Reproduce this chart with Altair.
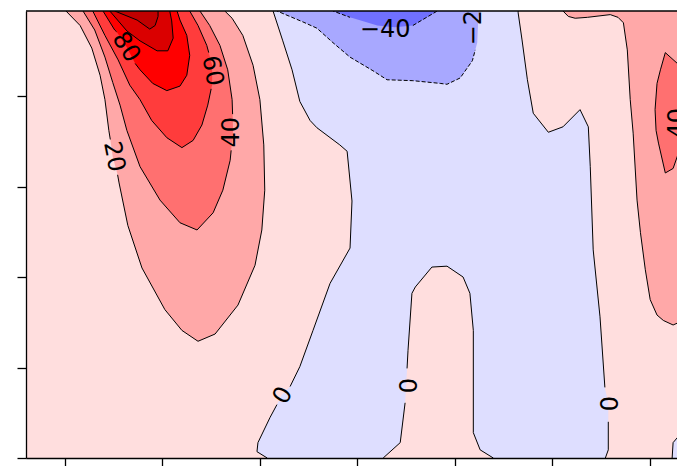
import altair as alt
import pandas as pd

# ---- contour regions (x: latitude-like, y: height-like) ----
# each region: vertex x list, vertex y list; *_gaps = vertex index pairs where the contour line is broken by a label
c20_left_x = [-61.0, -59.8, -56.9, -54.5, -52.8, -51.8, -51.0, -50.7, -50.2, -49.2, -48.9, -47.1, -44.2, -39.5, -36.0, -32.7, -29.2, -24.5, -21.0, -19.6, -19.0, -19.2, -20.0, -21.4, -23.5, -25.7, -27.2, -27.8]
c20_left_y = [51.0, 49.4, 47.8, 45.3, 42.3, 39.6, 36.2, 35.2, 33.3, 31.3, 30.4, 25.7, 21.0, 16.4, 14.1, 12.9, 13.7, 16.9, 21.3, 25.2, 29.6, 34.6, 39.6, 43.4, 46.7, 48.6, 49.4, 51.0]
c20_left_gaps = [(7, 9)]

c40_left_x = [-56.9, -56.3, -53.9, -51.8, -50.2, -48.7, -47.3, -44.6, -40.5, -36.4, -32.9, -29.6, -27.6, -26.1, -25.9, -25.5, -25.6, -25.7, -26.6, -28.2, -30.3, -32.3, -32.7]
c40_left_y = [51.0, 49.4, 47.3, 44.3, 41.5, 39.0, 36.2, 32.2, 28.5, 26.0, 25.2, 27.1, 29.6, 32.9, 34.0, 36.2, 38.0, 39.6, 42.9, 45.6, 47.8, 49.4, 51.0]
c40_left_gaps = [(14, 16)]

c60_x = [-54.3, -54.3, -51.8, -49.1, -46.7, -44.6, -42.2, -39.1, -36.0, -33.7, -31.9, -30.7, -30.0, -29.8, -29.8, -30.5, -30.9, -32.7, -34.4, -34.6]
c60_y = [51.0, 49.4, 46.7, 44.0, 41.2, 39.6, 37.3, 35.4, 34.3, 35.1, 36.8, 39.0, 40.8, 41.2, 43.4, 44.8, 45.6, 47.8, 49.4, 51.0]
c60_gaps = [(12, 15)]

c80_x = [-52.2, -52.2, -49.8, -49.4, -47.3, -45.6, -44.6, -42.0, -39.1, -36.4, -35.0, -34.4, -35.0, -36.4, -37.0, -37.0]
c80_y = [51.0, 49.4, 47.3, 47.1, 45.4, 43.6, 42.9, 41.4, 40.6, 41.1, 42.3, 44.5, 46.7, 48.4, 49.4, 51.0]
c80_gaps = [(3, 5)]

c100_x = [-50.8, -50.8, -47.3, -44.6, -41.1, -38.9, -37.8, -38.1, -38.5, -38.5]
c100_y = [51.0, 49.4, 47.2, 46.1, 45.0, 45.0, 46.4, 48.3, 49.4, 51.0]

c120_x = [-49.8, -49.8, -45.2, -42.6, -41.5, -40.9, -40.9, -40.9]
c120_y = [51.0, 49.4, 48.4, 47.4, 47.8, 48.8, 49.4, 51.0]

cneg0_x = [-17.3, -17.3, -15.3, -13.4, -11.8, -9.7, -8.3, -3.6, -2.1, -1.1, -1.5, -5.6, -9.1, -11.8, -13.8, -15.5, -16.5, -17.9, -20.4, -20.6, -18.5, -18.5,
           5.3, 5.3, 8.8, 9.8, 10.2, 10.4, 11.2, 11.9, 15.3, 18.4, 21.7, 23.1, 23.8, 23.8, 25.2, 27.9, 27.9,
           50.9, 50.9, 51.5, 51.5, 51.5, 50.9, 50.8, 49.8, 48.4, 47.8, 47.4, 45.7, 42.2, 39.2, 36.1, 34.9, 33.8, 33.0, 33.0]
cneg0_y = [51.0, 49.4, 46.1, 42.9, 39.4, 37.3, 36.5, 34.6, 33.9, 28.4, 23.2, 19.3, 14.1, 10.1, 7.9, 7.0, 5.9, 4.5, 1.7, 0.7, 0.0, -1.0,
           -1.0, 0.0, 1.7, 6.1, 9.9, 11.9, 18.2, 18.9, 21.1, 21.2, 20.0, 18.2, 14.1, 2.8, 0.9, 0.0, -1.0,
           -1.0, 0.0, 0.9, 4.0, 6.1, 7.5, 7.8, 15.6, 23.0, 32.2, 36.6, 38.5, 36.6, 36.0, 38.1, 41.8, 46.2, 49.2, 51.0]
cneg0_gaps = [(14, 16), (25, 26), (42, 45)]

cneg0b_x = [64.6, 64.6, 64.8, 65.9, 67.3, 69.3, 69.3]
cneg0b_y = [-1.0, 0.0, 1.7, 2.4, 2.9, 3.1, -1.0]

cneg20_x = [-16.5, -16.5, -11.2, -8.3, -5.0, -1.5, 3.2, 6.1, 11.4, 17.0, 18.4, 21.1, 23.6, 24.2, 24.6, 24.8, 25.0, 25.0]
cneg20_y = [51.0, 49.4, 48.2, 47.5, 45.9, 44.3, 42.8, 41.8, 41.7, 41.4, 41.3, 42.0, 43.9, 45.1, 45.9, 48.4, 49.4, 51.0]
cneg20_gaps = [(13, 17)]

cneg40_x = [-5.0, -5.0, -1.5, 4.1, 7.7, 11.4, 13.9, 16.4, 16.4]
cneg40_y = [51.0, 49.4, 48.7, 47.8, 47.6, 47.8, 48.6, 49.4, 51.0]
cneg40_gaps = [(2, 5)]

c20_right_x = [42.2, 42.2, 43.3, 44.7, 47.2, 51.9, 53.5, 54.6, 55.4, 56.0, 56.6, 57.4, 58.1, 59.1, 60.1, 61.5, 62.8, 64.8, 66.9, 69.3, 69.3]
c20_right_y = [51.0, 49.4, 48.8, 48.6, 48.7, 49.0, 48.7, 48.1, 45.1, 39.6, 35.9, 28.5, 24.9, 20.8, 17.5, 15.8, 15.2, 14.7, 15.2, 16.4, 51.0]

c40_right_x = [63.2, 62.2, 61.5, 61.1, 61.3, 61.8, 63.2, 64.8, 66.1, 66.5, 66.7, 66.7, 67.5, 66.3]
c40_right_y = [44.8, 42.9, 41.4, 38.5, 36.2, 34.8, 31.5, 32.0, 34.0, 35.0, 37.0, 39.0, 40.9, 43.3]
c40_right_gaps = [(9, 11)]

# contour labels
label_text = ["80", "60", "40", "20", "0", "0", "0", "\u221240", "\u221220", "40", "20"]
label_x = [-47.5, -29.8, -25.7, -50.0, -15.2, 10.0, 51.3, 5.7, 24.0, 65.8, 68.6]
label_y = [45.4, 42.8, 36.0, 33.3, 6.9, 8.0, 6.0, 47.3, 48.4, 37.0, 29.5]
label_angle = [58, 80, 270, 79, 300, 90, 90, 0, 270, 270, 270]

x_ticks = [-60, -40, -20, 0, 20, 40, 60]
y_ticks = [0, 10, 20, 30, 40]

W, H = 651, 447
xscale = alt.Scale(domain=[-68.0, 65.6], nice=False, zero=False)
yscale = alt.Scale(domain=[0, 49.4], nice=False, zero=False)
ax_common = dict(labels=False, title=None, grid=False, domainColor="black", domainWidth=1.3,
                 tickColor="black", tickWidth=1.3, tickSize=9, zindex=1)
xaxis = alt.Axis(values=x_ticks, **ax_common)
yaxis = alt.Axis(values=y_ticks, **ax_common)
X = lambda: alt.X("x:Q", scale=xscale, axis=xaxis)
Y = lambda: alt.Y("y:Q", scale=yscale, axis=yaxis)


def region(xs, ys, fill, gaps=(), dash=None):
    n = len(xs)
    fdf = pd.DataFrame({"x": list(xs) + [xs[0]], "y": list(ys) + [ys[0]], "i": range(n + 1)})
    fill_layer = alt.Chart(fdf).mark_line(fill=fill, strokeOpacity=0, clip=True).encode(
        x=X(), y=Y(), order="i:Q")
    ring = list(range(n)) + [0]
    removed = set()
    for s, e in gaps:
        removed.update(range(s, e))
    segs, cur = [], [ring[0]]
    for k in range(n):
        if k in removed:
            if len(cur) > 1:
                segs.append(cur)
            cur = [ring[k + 1]]
        else:
            cur.append(ring[k + 1])
    if len(cur) > 1:
        segs.append(cur)
    rows = []
    for s_id, seg in enumerate(segs):
        for j, idx in enumerate(seg):
            rows.append({"x": xs[idx], "y": ys[idx], "seg": s_id, "i": j})
    kw = dict(color="black", strokeWidth=1.0, clip=True, strokeJoin="round")
    if dash:
        kw["strokeDash"] = dash
    stroke_layer = alt.Chart(pd.DataFrame(rows)).mark_line(**kw).encode(
        x=X(), y=Y(), detail="seg:N", order="i:Q")
    return [fill_layer, stroke_layer]


layers = []
layers += region(c20_left_x, c20_left_y, "#FFA8A8", c20_left_gaps)
layers += region(c40_left_x, c40_left_y, "#FF7070", c40_left_gaps)
layers += region(c60_x, c60_y, "#FF3C3C", c60_gaps)
layers += region(c80_x, c80_y, "#FF0000", c80_gaps)
layers += region(c100_x, c100_y, "#DA0000")
layers += region(c120_x, c120_y, "#C00000")
layers += region(c20_right_x, c20_right_y, "#FFA8A8")
layers += region(c40_right_x, c40_right_y, "#FF7070", c40_right_gaps)
layers += region(cneg0_x, cneg0_y, "#DEDEFF", cneg0_gaps)
layers += region(cneg0b_x, cneg0b_y, "#DEDEFF")
layers += region(cneg20_x, cneg20_y, "#A8A8FF", cneg20_gaps, dash=[4, 2])
layers += region(cneg40_x, cneg40_y, "#7070FF", cneg40_gaps, dash=[4, 2])

labels_df = pd.DataFrame({"t": label_text, "x": label_x, "y": label_y, "a": label_angle})
labels = alt.Chart(labels_df).mark_text(
    font="DejaVu Sans", fontSize=24, color="black", align="center", baseline="middle", clip=True
).encode(
    x=X(), y=Y(), text="t:N", angle=alt.Angle("a:Q", scale=None),
)

top_frame = alt.Chart(pd.DataFrame({"v": [0]})).mark_rule(color="black", strokeWidth=1.3).encode(
    x=alt.value(0), x2=alt.value(W), y=alt.value(0)
)

chart = alt.layer(*layers, labels, top_frame).properties(
    width=W, height=H,
    autosize=alt.AutoSizeParams(type="none"),
    padding={"left": 18, "top": 3, "right": 0, "bottom": 8},
).configure_view(fill="#FFDEDE", stroke=None)

chart.save("out.html", embed_options={"renderer": "svg", "actions": False})
